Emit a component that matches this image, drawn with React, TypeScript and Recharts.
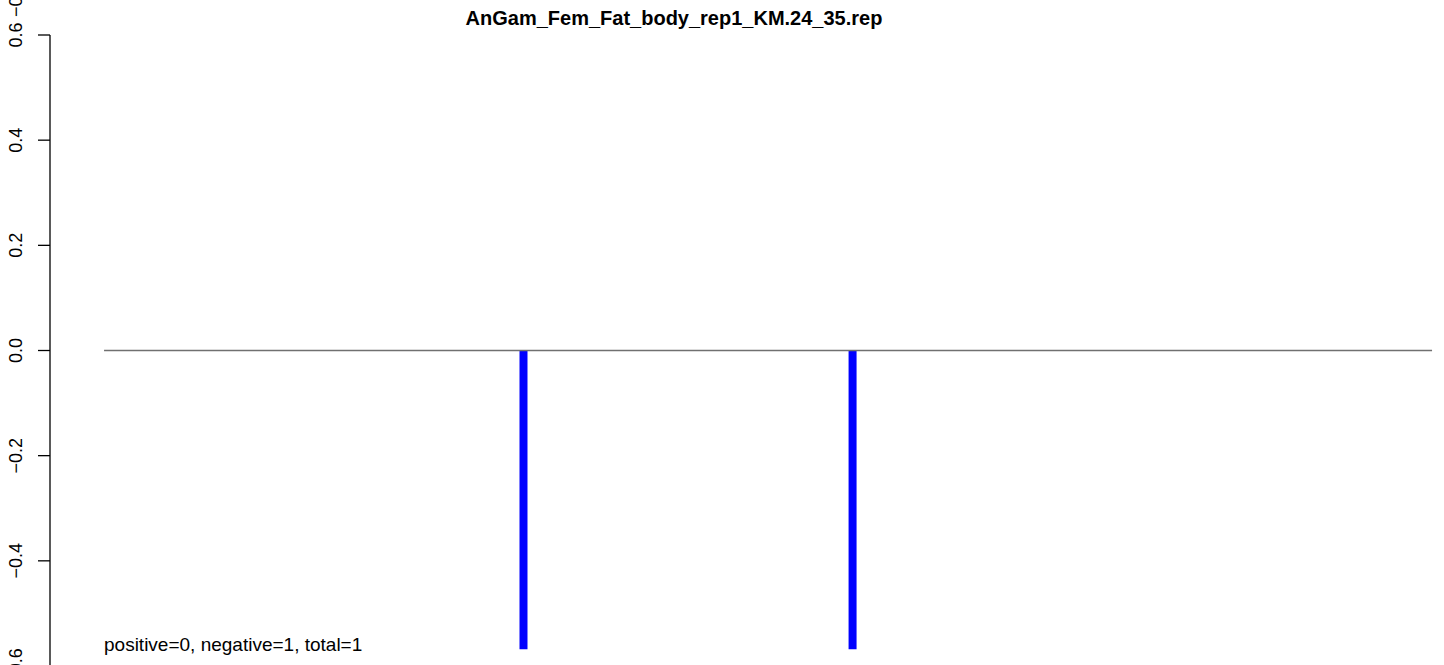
import React from 'react';
import { ComposedChart, Bar, XAxis, YAxis, ReferenceLine } from 'recharts';

const TITLE = 'AnGam_Fem_Fat_body_rep1_KM.24_35.rep';
const NOTE = 'positive=0, negative=1, total=1';
// fragment of a neighbouring label that is cut by the top edge
const CLIPPED_LABEL = '\u22120.6';

// positions along the track (0..100 = extent of the grey baseline)
const positions = [31.55, 56.33];
const scores = [-0.568, -0.568];
const trackStart = 0;
const trackEnd = 100;
const yTicks = [-0.6, -0.4, -0.2, 0, 0.2, 0.4, 0.6];

const data = positions.map((p, i) => ({ pos: p, score: scores[i] }));

const FONT = '"Liberation Sans", Arial, Helvetica, sans-serif';

const fmt = (v: number) => v.toFixed(1).replace('-', '\u2212');

const RotTick = ({ y, payload }: any) => (
  <text
    x={22} y={y}
    transform={`rotate(-90, 22, ${y})`}
    textAnchor="middle"
    fontFamily={FONT} fontSize={18} fill="#000"
  >
    {fmt(payload.value)}
  </text>
);

export default function App() {
  return (
    <div style={{ position: 'absolute', left: 0, top: 0, width: 1444, height: 665, overflow: 'hidden', background: '#fff' }}>
      <ComposedChart
        width={1444} height={666} data={data}
        margin={{ top: 35, right: 0, bottom: 0, left: 0 }}
      >
        <XAxis
          dataKey="pos" type="number" hide
          domain={[-4.07, 100.9]} allowDataOverflow
        />
        <YAxis
          type="number" domain={[-0.6, 0.6]} ticks={yTicks}
          width={50} tickSize={12}
          axisLine={{ stroke: '#000', strokeWidth: 1.3 }}
          tickLine={{ stroke: '#000', strokeWidth: 1.3 }}
          tick={<RotTick />}
          interval={0}
        />
        <ReferenceLine
          segment={[{ x: trackStart, y: 0 }, { x: trackEnd, y: 0 }]}
          stroke="#707070" strokeWidth={1.3} ifOverflow="visible"
        />
        <Bar dataKey="score" fill="#0000ff" barSize={8} isAnimationActive={false} />
      </ComposedChart>
      <svg width={1444} height={665} style={{ position: 'absolute', left: 0, top: 0, pointerEvents: 'none' }}>
        <text x={674} y={25} textAnchor="middle" fontFamily={FONT} fontWeight="bold" fontSize={20} fill="#000">
          {TITLE}
        </text>
        <text x={104} y={651} fontFamily={FONT} fontSize={19} fill="#000">
          {NOTE}
        </text>
        <text
          x={22} y={17} transform="rotate(-90, 22, 17)" textAnchor="start"
          fontFamily={FONT} fontSize={18} fill="#000"
        >
          {CLIPPED_LABEL}
        </text>
      </svg>
    </div>
  );
}
